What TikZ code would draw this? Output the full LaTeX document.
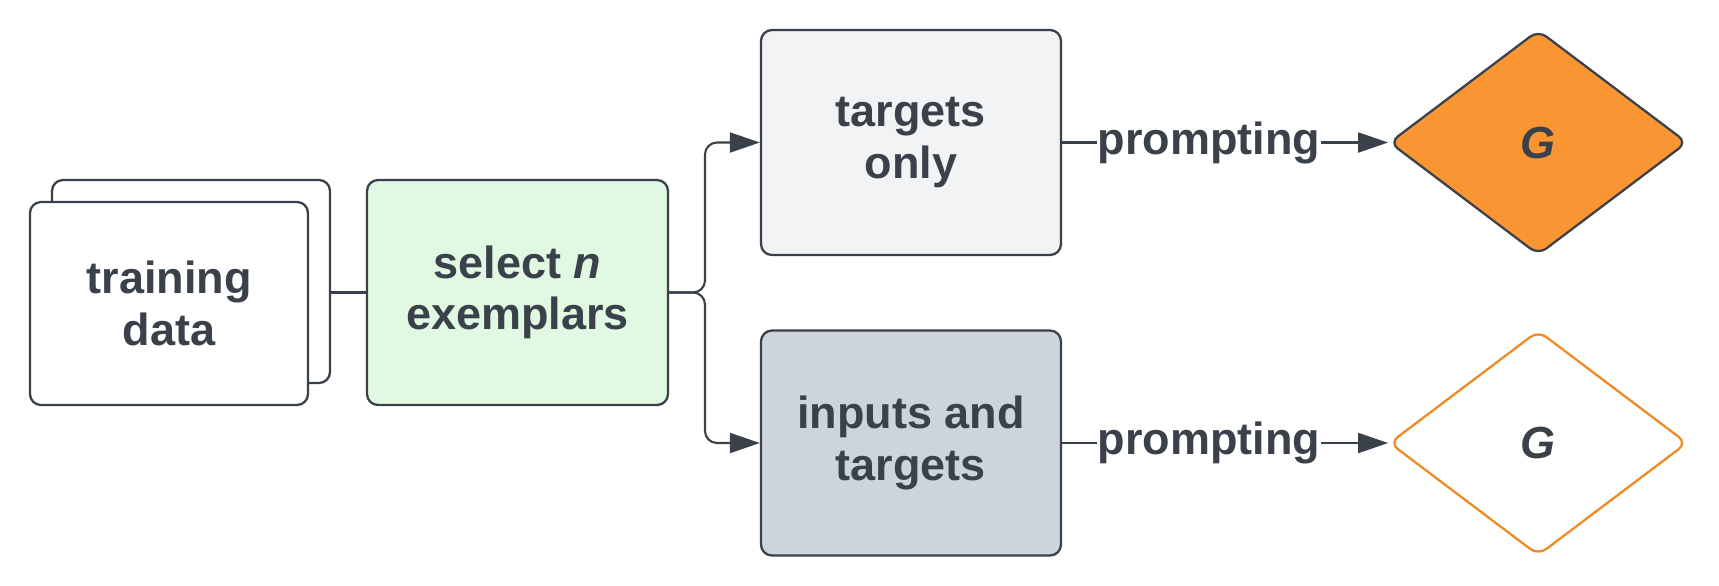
\documentclass[tikz,border=0pt]{standalone}
\usepackage{fontspec}
\setmainfont{Liberation Sans}
\usetikzlibrary{arrows.meta, positioning, shapes.geometric}
\definecolor{InkGray}{HTML}{3A414A}
\definecolor{SoftGreen}{HTML}{E1F9E2}
\definecolor{PaleGray}{HTML}{F2F3F5}
\definecolor{SlateGray}{HTML}{CED4DC}
\definecolor{DeepOrange}{HTML}{F99633}
\definecolor{LineOrange}{HTML}{F08A24}
\tikzset{
  box/.style={draw=InkGray, line width=0.65pt, rounded corners=0.11cm, align=center, text=InkGray, font=\fontsize{12.8pt}{14.6pt}\selectfont\bfseries, inner sep=0pt},
  databox/.style={box, fill=white, minimum width=2.78cm, minimum height=2.03cm},
  selbox/.style={box, fill=SoftGreen, minimum width=3.01cm, minimum height=2.25cm},
  tgtbox/.style={box, minimum width=3.0cm, minimum height=2.25cm},
  model/.style={diamond, line width=0.65pt, rounded corners=0.1cm, minimum width=2.98cm, minimum height=2.25cm, inner sep=0pt, text=InkGray, font=\fontsize{12.8pt}{14.6pt}\selectfont\bfseries\itshape},
  arrow/.style={-{Triangle[length=0.3cm, width=0.2cm]}, line width=0.6pt, draw=InkGray},
  line/.style={line width=0.6pt, draw=InkGray},
  lbl/.style={fill=white, inner sep=0.3pt, text=InkGray, font=\fontsize{12.8pt}{14.6pt}\selectfont\bfseries}
}

\begin{document}
\begin{tikzpicture}
\useasboundingbox (0,0) rectangle (17.19,-5.85);
% stacked data sheets
\node[databox] (back) at (1.91,-2.815) {};
\node[databox] (data) at (1.69,-3.035) {training\\data};
\node[selbox] (sel) at (5.175,-2.925) {select \textit{n}\\exemplars};
\node[tgtbox, fill=PaleGray] (tgt) at (9.11,-1.425) {targets\\only};
\node[tgtbox, fill=SlateGray] (both) at (9.11,-4.43) {inputs and\\targets};
\node[model, draw=InkGray, fill=DeepOrange, right=3.26cm of tgt] (gt) {G};
\node[model, draw=LineOrange, fill=white, right=3.26cm of both] (gb) {G};
\coordinate (split) at (7.05,-2.925);

\draw[line] (sel.west -| back.east) -- (sel.west);
\draw[arrow, rounded corners=0.12cm] (sel.east) -- (split) |- (tgt.west);
\draw[arrow, rounded corners=0.12cm] (sel.east) -- (split) |- (both.west);
\draw[arrow] (tgt) -- node[lbl, pos=0.45] {prompting} (gt);
\draw[arrow] (both) -- node[lbl, pos=0.45] {prompting} (gb);
\end{tikzpicture}
\end{document}
